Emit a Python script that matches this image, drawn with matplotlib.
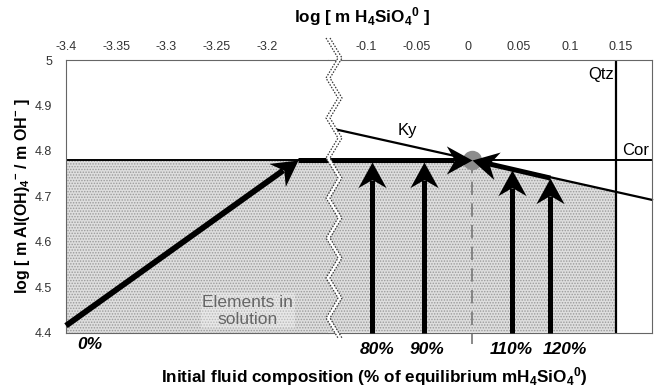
import numpy as np
import matplotlib
matplotlib.use("Agg")
import matplotlib.pyplot as plt
from matplotlib.path import Path
from matplotlib.markers import MarkerStyle
from matplotlib.transforms import Affine2D

plt.rcParams['font.family'] = ['Liberation Sans', 'DejaVu Sans']
plt.rcParams['mathtext.fontset'] = 'custom'
plt.rcParams['mathtext.rm'] = 'Liberation Sans:bold'
plt.rcParams['mathtext.bf'] = 'Liberation Sans:bold'
plt.rcParams['mathtext.default'] = 'bf'
plt.rcParams['hatch.linewidth'] = 0.7

# ---- data ----
yticks = [4.4, 4.5, 4.6, 4.7, 4.8, 4.9, 5.0]
ytick_labels = ['4.4', '4.5', '4.6', '4.7', '4.8', '4.9', '5']
left_ticks = [-3.4, -3.35, -3.3, -3.25, -3.2]
left_labels = ['-3.4', '-3.35', '-3.3', '-3.25', '-3.2']
right_ticks = [-0.1, -0.05, 0, 0.05, 0.1, 0.15]
right_labels = ['-0.1', '-0.05', '0', '0.05', '0.1', '0.15']
left_lim = (-3.4, -3.139)
right_lim = (-0.137, 0.1805)
ylim = (4.4, 5.0)

cor_y = 4.78                      # corundum saturation
qtz_x = 0.145                     # quartz saturation
ky_x = [-0.129, 0.1805]           # kyanite line
ky_y = [4.847, 4.692]
eq_x, eq_y = 0.004, 4.78          # equilibrium point

start0 = (-3.4, 4.415)            # 0% path
tip0 = (-3.169, 4.78)
arrow_x = [-0.094, -0.043, 0.043, 0.081]      # 80, 90, 110, 120 %
arrow_tip = [4.775, 4.775, 4.758, 4.740]
pct_labels = ['80%', '90%', '110%', '120%']
pct_x = [-0.089, -0.040, 0.043, 0.095]

fig = plt.figure(figsize=(6.57, 3.89), dpi=100)
W, H = 657, 389
def px(x, y):
    return x / W, 1 - y / H

bot = 1 - 332.5 / H
hgt = (332.5 - 60) / H
axL = fig.add_axes([66 / W, bot, 262 / W, hgt])
axR = fig.add_axes([328 / W, bot, 324 / W, hgt])

for ax, lim, t, tl in [(axL, left_lim, left_ticks, left_labels),
                       (axR, right_lim, right_ticks, right_labels)]:
    ax.set_xlim(*lim)
    ax.set_ylim(*ylim)
    ax.xaxis.tick_top()
    ax.set_xticks(t)
    ax.set_xticklabels(tl)
    ax.tick_params(length=0, labelsize=9, labelcolor='#333333', pad=5)
    for s in ax.spines.values():
        s.set_color('#666666')
        s.set_linewidth(0.8)
axL.set_yticks(yticks)
axL.set_yticklabels(ytick_labels)
axL.tick_params(axis='y', pad=10)
axR.set_yticks([])
axL.spines['right'].set_visible(False)
axR.spines['left'].set_visible(False)

stipple = dict(facecolor='#dedede', edgecolor='#9a9a9a', hatch='......', linewidth=0)

# left panel
axL.fill_between(left_lim, ylim[0], cor_y, zorder=0, **stipple)
axL.axhline(cor_y, color='black', lw=1.4)

# right panel
qtz_y = np.interp(qtz_x, ky_x, ky_y)
axR.fill_between([right_lim[0], eq_x, qtz_x], ylim[0], [cor_y, eq_y, qtz_y],
                 zorder=0, **stipple)
axR.axhline(cor_y, color='black', lw=1.4)
axR.axvline(qtz_x, color='black', lw=1.6)
axR.plot(ky_x, ky_y, color='black', lw=1.6, clip_on=False)
axR.plot([eq_x, eq_x], [eq_y, 4.375], color='#777777', lw=1.2,
         dashes=(8, 5), clip_on=False, zorder=1)
axR.plot([eq_x], [eq_y], 'o', ms=14, color='#8c8c8c', mec='none', zorder=3)

# stealth arrow head
head = Path([(0, 0), (-1, 0.55), (-0.68, 0), (-1, -0.55), (0, 0)],
            [Path.MOVETO, Path.LINETO, Path.LINETO, Path.LINETO, Path.CLOSEPOLY])
HEAD_MS = 37

def arrow(ax, x0, y0, x1, y1, lw=3.6):
    p0 = ax.transData.transform((x0, y0))
    p1 = ax.transData.transform((x1, y1))
    d = p1 - p0
    ang = np.degrees(np.arctan2(d[1], d[0]))
    back = p1 - d / np.hypot(*d) * HEAD_MS * 0.5 * 0.7 * 100 / 72
    xb, yb = ax.transData.inverted().transform(back)
    ax.plot([x0, xb], [y0, yb], color='black', lw=lw, solid_capstyle='butt',
            clip_on=False, zorder=4)
    m = MarkerStyle(head, transform=Affine2D().rotate_deg(ang))
    ax.plot([x1], [y1], marker=m, ms=HEAD_MS, color='black', mew=0,
            clip_on=False, zorder=5)

# 0% path
arrow(axL, *start0, *tip0, lw=4.2)
axL.plot([tip0[0], left_lim[1]], [cor_y, cor_y], color='black', lw=3.6,
         solid_capstyle='butt', zorder=4)
arrow(axR, right_lim[0], cor_y, eq_x, eq_y)
arrow(axR, arrow_x[3], arrow_tip[3], eq_x, eq_y)

for x, yt in zip(arrow_x, arrow_tip):
    arrow(axR, x, ylim[0], x, yt)

# labels
txt = dict(fontsize=12.5, fontweight='bold', style='italic', ha='center', va='center')
axL.text(-3.376, 4.373, '0%', clip_on=False, **txt)
for x, s in zip(pct_x, pct_labels):
    axR.text(x, 4.362, s, clip_on=False, **txt)

axR.text(-0.059, 4.845, 'Ky', fontsize=12, ha='center', va='center')
axR.text(0.164, 4.80, 'Cor', fontsize=12, ha='center', va='center')
axR.text(0.131, 4.969, 'Qtz', fontsize=12, ha='center', va='center')
axL.text(-3.219, 4.448, 'Elements in\nsolution', fontsize=12.5, color='#666666',
         ha='center', va='center', linespacing=1.15,
         bbox=dict(facecolor='white', alpha=0.3, edgecolor='none', pad=1))

fig.text(*px(362, 17), r'log [ m H$_4$SiO$_4$$^0$ ]', fontsize=12.3,
         fontweight='bold', ha='center', va='center')
fig.text(*px(374, 377), r'Initial fluid composition (% of equilibrium mH$_4$SiO$_4$$^0$)',
         fontsize=12.3, fontweight='bold', ha='center', va='center')
fig.text(*px(23, 196), r'log [ m Al(OH)$_4$$^{-}$ / m OH$^{-}$ ]', fontsize=11.5,
         fontweight='bold', ha='center', va='center', rotation=90)

# wavy break
yy = np.arange(38, 358, 20.0)
xx = np.where(np.arange(len(yy)) % 2 == 0, 326.0, 338.0)
xa = [px(x, y) for x, y in zip(xx, yy)]
xb = [px(x + 4, y) for x, y in zip(xx, yy)]
poly = plt.Polygon(xa + xb[::-1], closed=True, transform=fig.transFigure,
                   facecolor='white', edgecolor='none', zorder=6)
fig.patches.append(poly)
for pts in (xa, xb):
    fx, fy = zip(*pts)
    fig.lines.append(plt.Line2D(fx, fy, transform=fig.transFigure, color='#333333',
                                lw=0.9, ls=(0, (1.2, 1.2)), zorder=7))

fig.savefig('out.png', dpi=100)
